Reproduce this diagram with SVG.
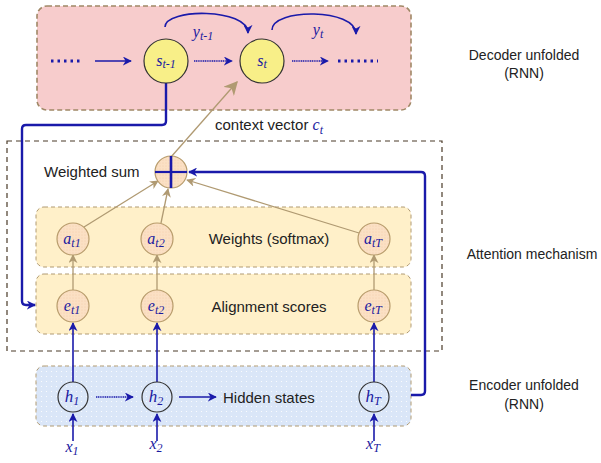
<svg xmlns="http://www.w3.org/2000/svg" width="601" height="463" viewBox="0 0 601 463">
<defs>
<marker id="ab" viewBox="0 0 10 10" refX="9" refY="5" markerWidth="9" markerHeight="9" markerUnits="userSpaceOnUse" orient="auto"><path d="M0,0 L10,5 L0,10 L3,5 z" fill="#1a1aaa"/></marker>
<marker id="at" viewBox="0 0 10 10" refX="9" refY="5" markerWidth="9" markerHeight="9" markerUnits="userSpaceOnUse" orient="auto"><path d="M0,0 L10,5 L0,10 L3,5 z" fill="#b09a72"/></marker>
<marker id="atb" viewBox="0 0 10 10" refX="9" refY="5" markerWidth="14" markerHeight="14" markerUnits="userSpaceOnUse" orient="auto"><path d="M0,0 L10,5 L0,10 L3,5 z" fill="#b09a72"/></marker>
<pattern id="dots" width="5" height="5" patternUnits="userSpaceOnUse"><rect width="5" height="5" fill="#dae6f8"/><circle cx="1.5" cy="1.5" r="0.6" fill="#ffffff"/></pattern>
<pattern id="pdots" width="3" height="3" patternUnits="userSpaceOnUse"><rect width="3" height="3" fill="#fbe0c4"/><circle cx="1" cy="1" r="0.5" fill="#f3c9a4"/></pattern>
</defs>
<style>
.lbl{font-family:"Liberation Sans",Arial,sans-serif;font-size:15px;fill:#222}
.side{font-family:"Liberation Sans",Arial,sans-serif;font-size:14px;fill:#222}
.m{font-family:"Liberation Serif","Times New Roman",serif;font-style:italic;fill:#1a1aa0}
.blue{stroke:#1a1aaa;fill:none;stroke-width:1.6}
.bluet{stroke:#1a1aaa;fill:none;stroke-width:2.4}
.dot{stroke:#1a1aaa;fill:none;stroke-width:1.6;stroke-dasharray:1.2 0.6}
.tan{stroke:#b09a72;fill:none;stroke-width:1.3}
.big{fill:#f8ef88;stroke:#333;stroke-width:1.2}
.sm{fill:url(#pdots);stroke:#b89c6c;stroke-width:1.2}
.hc{fill:url(#dots);stroke:#333;stroke-width:1.2}
.box{stroke:#b09a72;stroke-width:1;stroke-dasharray:4 3}
</style>

<g id="decoder-box">
<rect x="37" y="6" width="374" height="104" rx="10" fill="#f7cccc" stroke="#a08866" stroke-width="1.6" stroke-dasharray="5 3"/>
</g>
<g id="attention-box">
<rect x="7" y="141" width="435" height="210" fill="none" stroke="#4a3a28" stroke-width="1.2" stroke-dasharray="5 4"/>
</g>
<g id="weights-box">
<rect x="36" y="207" width="375" height="60" rx="8" fill="#fff0c9" class="box"/>
</g>
<g id="alignment-box">
<rect x="36" y="274" width="375" height="60" rx="8" fill="#fff0c9" class="box"/>
</g>
<g id="encoder-box">
<rect x="36" y="366" width="375" height="60" rx="8" fill="url(#dots)" class="box"/>
</g>

<g id="connectors">
<line x1="51" y1="61" x2="82" y2="61" stroke="#1a1aaa" stroke-width="3" stroke-dasharray="2.5 4"/>
<line x1="95" y1="61" x2="131" y2="61" class="blue" marker-end="url(#ab)"/>
<line x1="194" y1="61" x2="232" y2="61" class="dot" marker-end="url(#ab)"/>
<line x1="292" y1="61" x2="328" y2="61" class="dot" marker-end="url(#ab)"/>
<line x1="338" y1="61" x2="378" y2="61" stroke="#1a1aaa" stroke-width="3" stroke-dasharray="2.5 4"/>
<path d="M165,27 C165,8 248,8 248,33" class="blue" marker-end="url(#ab)"/>
<path d="M272,30 C272,8 356,8 356,34" class="blue" marker-end="url(#ab)"/>
<path d="M166,83 V121 Q166,125 162,125 H26 Q22,125 22,129 V301 Q22,305 26,305 H35" class="bluet" marker-end="url(#ab)"/>
<line x1="171" y1="157" x2="237" y2="82" class="tan" stroke-width="2.2" marker-end="url(#atb)"/>
<path d="M411,395 H421 Q425,395 425,391 V176 Q425,172 421,172 H189" class="bluet" marker-end="url(#ab)"/>
<line x1="84" y1="227" x2="158" y2="181" class="tan" marker-end="url(#at)"/>
<line x1="161" y1="223" x2="168" y2="189" class="tan" marker-end="url(#at)"/>
<line x1="359" y1="233" x2="187" y2="180" class="tan" marker-end="url(#at)"/>
<line x1="73" y1="290" x2="73" y2="255" class="tan" marker-end="url(#at)"/>
<line x1="157" y1="290" x2="157" y2="255" class="tan" marker-end="url(#at)"/>
<line x1="374" y1="290" x2="374" y2="255" class="tan" marker-end="url(#at)"/>
<line x1="73" y1="382" x2="73" y2="323" class="blue" marker-end="url(#ab)"/>
<line x1="157" y1="382" x2="157" y2="323" class="blue" marker-end="url(#ab)"/>
<line x1="374" y1="382" x2="374" y2="323" class="blue" marker-end="url(#ab)"/>
<line x1="96" y1="397" x2="133" y2="397" class="dot" marker-end="url(#ab)"/>
<line x1="179" y1="397" x2="216" y2="397" class="blue" stroke-width="2" marker-end="url(#ab)"/>
<line x1="73" y1="441" x2="73" y2="414" class="blue" marker-end="url(#ab)"/>
<line x1="157" y1="441" x2="157" y2="414" class="blue" marker-end="url(#ab)"/>
<line x1="374" y1="441" x2="374" y2="414" class="blue" marker-end="url(#ab)"/>
</g>

<g id="s_t-1"><circle cx="166" cy="61" r="22" class="big"/><text x="166" y="66" class="m" font-size="16" text-anchor="middle">s<tspan font-size="12" dy="2">t-1</tspan></text></g>
<g id="s_t"><circle cx="262" cy="61" r="22" class="big"/><text x="262" y="66" class="m" font-size="16" text-anchor="middle">s<tspan font-size="12" dy="2">t</tspan></text></g>
<g id="y_t-1-label"><text x="203" y="37" class="m" font-size="16" text-anchor="middle">y<tspan font-size="12" dy="3">t-1</tspan></text></g>
<g id="y_t-label"><text x="318" y="35" class="m" font-size="16" text-anchor="middle">y<tspan font-size="12" dy="3">t</tspan></text></g>

<g id="context-label"><text x="215" y="130" class="lbl" font-size="14">context vector <tspan class="m" font-size="16">c</tspan><tspan class="m" font-size="12" dy="4">t</tspan></text></g>

<g id="weighted-sum">
<circle cx="171" cy="172" r="16" class="sm"/>
<line x1="155" y1="172" x2="187" y2="172" stroke="#1a1aaa" stroke-width="2.2"/>
<line x1="171" y1="156" x2="171" y2="188" stroke="#1a1aaa" stroke-width="2.6"/>
<text x="44" y="177" class="lbl">Weighted sum</text>
</g>

<g id="a_t1"><circle cx="73" cy="239" r="16" class="sm"/><text x="72" y="244" class="m" font-size="16" text-anchor="middle">a<tspan font-size="12" dy="3">t1</tspan></text></g>
<g id="a_t2"><circle cx="157" cy="239" r="16" class="sm"/><text x="156" y="244" class="m" font-size="16" text-anchor="middle">a<tspan font-size="12" dy="3">t2</tspan></text></g>
<g id="a_tT"><circle cx="374" cy="239" r="16" class="sm"/><text x="373" y="244" class="m" font-size="16" text-anchor="middle">a<tspan font-size="12" dy="3">tT</tspan></text></g>
<g id="weights-label"><text x="269" y="244" class="lbl" text-anchor="middle">Weights (softmax)</text></g>

<g id="e_t1"><circle cx="73" cy="306" r="16" class="sm"/><text x="72" y="311" class="m" font-size="16" text-anchor="middle">e<tspan font-size="12" dy="3">t1</tspan></text></g>
<g id="e_t2"><circle cx="157" cy="306" r="16" class="sm"/><text x="156" y="311" class="m" font-size="16" text-anchor="middle">e<tspan font-size="12" dy="3">t2</tspan></text></g>
<g id="e_tT"><circle cx="374" cy="306" r="16" class="sm"/><text x="373" y="311" class="m" font-size="16" text-anchor="middle">e<tspan font-size="12" dy="3">tT</tspan></text></g>
<g id="alignment-label"><text x="269" y="312" class="lbl" text-anchor="middle">Alignment scores</text></g>

<g id="h_1"><circle cx="73" cy="397" r="15" class="hc"/><text x="72" y="402" class="m" font-size="17" text-anchor="middle">h<tspan font-size="12" dy="3">1</tspan></text></g>
<g id="h_2"><circle cx="157" cy="397" r="15" class="hc"/><text x="156" y="402" class="m" font-size="17" text-anchor="middle">h<tspan font-size="12" dy="3">2</tspan></text></g>
<g id="h_T"><circle cx="374" cy="397" r="15" class="hc"/><text x="373" y="402" class="m" font-size="17" text-anchor="middle">h<tspan font-size="12" dy="3">T</tspan></text></g>
<g id="hidden-label"><text x="223" y="403" class="lbl">Hidden states</text></g>

<g id="x_1"><text x="72" y="452" class="m" font-size="16" text-anchor="middle">x<tspan font-size="12" dy="3">1</tspan></text></g>
<g id="x_2"><text x="156" y="449" class="m" font-size="16" text-anchor="middle">x<tspan font-size="12" dy="3">2</tspan></text></g>
<g id="x_T"><text x="373" y="449" class="m" font-size="16" text-anchor="middle">x<tspan font-size="12" dy="3">T</tspan></text></g>

<g id="side-labels">
<text x="524" y="60" class="side" text-anchor="middle">Decoder unfolded</text>
<text x="524" y="78" class="side" text-anchor="middle">(RNN)</text>
<text x="532" y="259" class="side" text-anchor="middle">Attention mechanism</text>
<text x="524" y="390" class="side" text-anchor="middle">Encoder unfolded</text>
<text x="524" y="409" class="side" text-anchor="middle">(RNN)</text>
</g>
</svg>
